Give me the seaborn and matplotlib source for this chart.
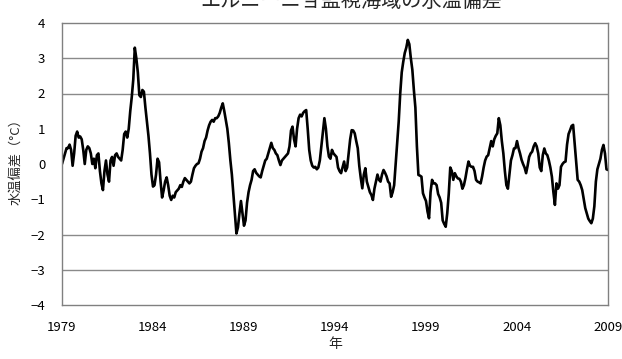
import numpy as np
import pandas as pd
import seaborn as sns
import matplotlib.pyplot as plt

# Monthly SST anomaly (°C), Jan 1979 .. Jan 2009
start_year = 1979
anomaly = [
    0.0, 0.15, 0.3, 0.45, 0.45, 0.55, 0.4, -0.05, 0.3, 0.8, 0.92, 0.75,            # 1979
    0.78, 0.7, 0.4, 0.0, 0.4, 0.5, 0.45, 0.3, 0.0, 0.15, -0.12, 0.25,              # 1980
    0.3, -0.2, -0.55, -0.74, -0.2, 0.1, -0.3, -0.5, 0.1, 0.2, -0.05, 0.25,         # 1981
    0.3, 0.2, 0.15, 0.1, 0.4, 0.85, 0.92, 0.75, 1.0, 1.5, 1.9, 2.4,                # 1982
    3.3, 3.0, 2.6, 1.95, 1.9, 2.1, 2.05, 1.6, 1.2, 0.8, 0.3, -0.3,                 # 1983
    -0.64, -0.6, -0.3, 0.15, 0.05, -0.5, -0.95, -0.75, -0.5, -0.38, -0.6, -0.9,    # 1984
    -1.02, -0.9, -0.95, -0.8, -0.75, -0.7, -0.6, -0.65, -0.5, -0.4, -0.45, -0.5,   # 1985
    -0.55, -0.5, -0.3, -0.12, -0.05, 0.0, 0.02, 0.15, 0.35, 0.45, 0.65, 0.75,      # 1986
    0.95, 1.1, 1.2, 1.25, 1.2, 1.3, 1.3, 1.35, 1.45, 1.6, 1.72, 1.5,               # 1987
    1.25, 1.0, 0.6, 0.11, -0.3, -0.85, -1.4, -1.97, -1.8, -1.4, -1.05, -1.4,       # 1988
    -1.75, -1.6, -1.1, -0.8, -0.6, -0.45, -0.2, -0.15, -0.25, -0.3, -0.35, -0.38,  # 1989
    -0.2, -0.05, 0.1, 0.15, 0.3, 0.45, 0.6, 0.45, 0.4, 0.3, 0.25, 0.1,             # 1990
    -0.03, 0.1, 0.15, 0.2, 0.25, 0.3, 0.5, 0.95, 1.06, 0.7, 0.5, 1.0,              # 1991
    1.3, 1.4, 1.35, 1.45, 1.5, 1.53, 1.0, 0.4, 0.1, -0.05, -0.1, -0.08,            # 1992
    -0.15, -0.1, 0.1, 0.49, 0.9, 1.3, 1.0, 0.5, 0.21, 0.15, 0.4, 0.3,              # 1993
    0.25, 0.2, -0.1, -0.2, -0.26, -0.1, 0.07, -0.2, -0.1, 0.3, 0.7, 0.96,          # 1994
    0.95, 0.87, 0.65, 0.45, -0.05, -0.4, -0.69, -0.3, -0.12, -0.5, -0.65, -0.8,    # 1995
    -0.88, -1.02, -0.7, -0.5, -0.3, -0.45, -0.5, -0.3, -0.17, -0.25, -0.35, -0.5,  # 1996
    -0.55, -0.93, -0.8, -0.6, 0.0, 0.6, 1.2, 2.0, 2.6, 2.9, 3.15, 3.3,             # 1997
    3.52, 3.4, 3.0, 2.67, 2.1, 1.6, 0.5, -0.31, -0.33, -0.36, -0.83, -0.95,        # 1998
    -1.05, -1.35, -1.54, -0.8, -0.45, -0.55, -0.55, -0.6, -0.85, -0.95, -1.1, -1.6,  # 1999
    -1.7, -1.78, -1.4, -0.85, -0.1, -0.2, -0.45, -0.26, -0.35, -0.41, -0.42, -0.5,   # 2000
    -0.7, -0.6, -0.4, -0.15, 0.07, -0.05, -0.08, -0.08, -0.2, -0.45, -0.5, -0.52,    # 2001
    -0.55, -0.35, -0.1, 0.1, 0.21, 0.25, 0.45, 0.65, 0.5, 0.7, 0.8, 0.87,          # 2002
    1.3, 1.1, 0.65, 0.3, -0.2, -0.6, -0.7, -0.3, 0.1, 0.25, 0.44, 0.45,            # 2003
    0.65, 0.45, 0.3, 0.12, 0.0, -0.1, -0.26, -0.05, 0.2, 0.3, 0.35, 0.5,           # 2004
    0.59, 0.5, 0.3, -0.1, -0.2, 0.25, 0.44, 0.3, 0.25, 0.1, -0.1, -0.36,           # 2005
    -0.8, -1.16, -0.55, -0.7, -0.6, -0.08, 0.0, 0.05, 0.07, 0.55, 0.85, 0.96,      # 2006
    1.08, 1.11, 0.6, 0.11, -0.45, -0.5, -0.6, -0.74, -1.0, -1.25, -1.4, -1.55,     # 2007
    -1.62, -1.68, -1.55, -1.2, -0.5, -0.15, 0.0, 0.15, 0.4, 0.54, 0.3, -0.15,      # 2008
    -0.17,                                                                         # 2009
]
year_ticks = [1979, 1984, 1989, 1994, 1999, 2004, 2009]
minor_year_ticks = [1984, 1999, 2004]
y_ticks = [-4, -3, -2, -1, 0, 1, 2, 3, 4]
grid_levels = [-3, -2, 2, 3]

df = pd.DataFrame({
    '年': start_year + np.arange(len(anomaly)) / 12,
    '水温偏差': anomaly,
})

sns.set_style('white')
plt.rcParams['font.family'] = ['Noto Sans CJK JP', 'DejaVu Sans']

fig = plt.figure(figsize=(6.22, 3.59), dpi=100, facecolor='white')
ax = fig.add_axes([62 / 622, 1 - 305 / 359, 546 / 622, 282 / 359])

for g in grid_levels:
    ax.axhline(g, color='#8a8a8a', linewidth=1.0, zorder=0)

sns.lineplot(data=df, x='年', y='水温偏差', color='black', linewidth=1.9, ax=ax)

ax.set_xlim(1979, 2009)
ax.set_ylim(-4, 4)
ax.set_xticks(year_ticks)
ax.set_xticks(minor_year_ticks, minor=True)
ax.set_yticks(y_ticks)
ax.tick_params(axis='both', which='major', length=0, labelsize=9.5, colors='black')
ax.tick_params(axis='x', which='major', pad=11.5)
ax.tick_params(axis='y', which='major', pad=12)
ax.tick_params(axis='x', which='minor', direction='in', length=3, width=1, color='#555555')

for s in ax.spines.values():
    s.set_color('#808080')
    s.set_linewidth(1.0)

ax.set_xlabel('年', fontsize=10)
ax.xaxis.set_label_coords(0.5, -(337 - 305) / 282)
ax.set_ylabel('水温偏差（°C）', fontsize=9.5)
ax.yaxis.set_label_coords((23 - 62) / 546, 0.52)

fig.text(351 / 622, 1 - 12 / 359, 'エルニーニョ監視海域の水温偏差',
         fontsize=14.5, ha='center', va='bottom')

plt.savefig('out.png', dpi=100, facecolor='white')
